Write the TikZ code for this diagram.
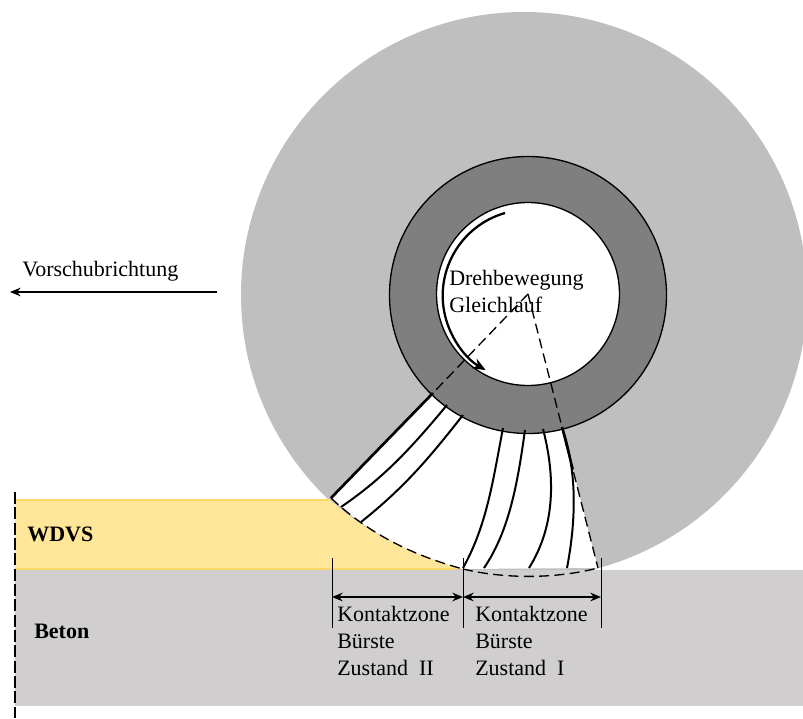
\documentclass[tikz,border=0pt]{standalone}
\usepackage{fontspec}
\setmainfont{Liberation Serif}
\usetikzlibrary{arrows.meta,calc}
\definecolor{wheel}{HTML}{BFBFBF}
\definecolor{ringc}{HTML}{7F7F7F}
\definecolor{wdvs}{HTML}{FFE699}
\definecolor{wdvsb}{HTML}{FFD966}
\definecolor{beton}{HTML}{D0CECE}
\tikzset{
  lbl/.style={anchor=base west,inner sep=0pt,font=\fontsize{16.5}{20}\selectfont},
  blbl/.style={lbl,font=\fontsize{16.5}{20}\selectfont\bfseries},
  fibre/.style={line width=1.5pt,black},
  thinl/.style={line width=0.5pt,black},
  dashl/.style={line width=1pt,black,dash pattern=on 7.5pt off 4pt},
  dimarrow/.style={line width=1pt,black,{Stealth[length=8pt,width=6.5pt]}-{Stealth[length=8pt,width=6.5pt]}},
}
\begin{document}
\begin{tikzpicture}[x=0.75pt,y=-0.75pt]
\useasboundingbox (0,0) rectangle (803,718);
\begin{scope}
\clip (0,0) rectangle (803,718);
\fill[wheel] (524,295) circle (283);
\end{scope}
\coordinate (C) at (528,294);
\coordinate (A) at (331,498);
\coordinate (M) at (463,569);
\coordinate (B) at (598,568);
\coordinate (AT) at (433,393);
\coordinate (BT) at (562,427);
% white brush sector
\fill[white] (A) -- (AT) -- (BT) -- (B) -- (M) .. controls (415,556) and (370,535) .. (A) -- cycle;
% WDVS layer
\fill[wdvs] (15,500) -- (330,500) .. controls (370,535) and (415,556) .. (M) -- (463,569) -- (15,569) -- cycle;
\draw[wdvsb,line width=0.8pt] (15,500) -- (330,500);
\draw[wdvsb,line width=0.8pt] (15,569) -- (455,569);
% concrete
\fill[beton] (15,569.5) rectangle (803,706);
% hub
\fill[ringc,draw=black,line width=1pt] (C) ++(0,1) circle (138.5);
\fill[white,draw=black,line width=1pt] (C) circle (91.5);
% brush fibres
\draw[line width=2pt] (AT) -- (A);
\draw[fibre] (447,405) .. controls (412,447) and (385,477) .. (341,507);
\draw[fibre] (463,415) .. controls (430,457) and (405,487) .. (361,522);
\draw[fibre] (503,428) .. controls (493,480) and (487,525) .. (463,568);
\draw[fibre] (525,430) .. controls (518,480) and (510,530) .. (484,568);
\draw[fibre] (543,429) .. controls (555,475) and (556,525) .. (529,568);
\draw[fibre] (562,427) .. controls (575,465) and (578,510) .. (567,568);
\draw[line width=1.8pt] (BT) -- ($(BT)!0.3!(B)$);
% contact curves and radii
\draw[dashl] (A) .. controls (370,535) and (415,556) .. (M);
\draw[dashl] (M) .. controls (505,579) and (555,579) .. (B);
\draw[dashl] (C) -- (AT);
\draw[dashl] (C) -- (B);
% rotation arrow
\coordinate (RS) at (505,213);
\draw[line width=1.7pt,-{Stealth[length=10pt,width=8pt]}] (RS) arc[start angle=254,end angle=120,radius=86];
% feed arrow
\coordinate (FA) at (217,292);
\coordinate (FB) at (10,292);
\draw[line width=1pt,-{Stealth[length=8pt,width=6.5pt]}] (FA) -- (FB);
% left dashed
\coordinate (D1) at (15,492);
\coordinate (D2) at (15,718);
\draw[line width=1.1pt,dash pattern=on 9pt off 2.5pt] (D1) -- (D2);
% dimension lines
\coordinate (T1) at (332,558); \coordinate (B1) at (332,628);
\coordinate (T2) at (463,558); \coordinate (B2) at (463,628);
\coordinate (T3) at (601,558); \coordinate (B3) at (601,628);
\draw[thinl] (T1) -- (B1);
\draw[thinl] (T2) -- (B2);
\draw[thinl] (T3) -- (B3);
\coordinate (P1) at (332,597); \coordinate (P2) at (463,597); \coordinate (P3) at (601,597);
\draw[dimarrow] (P1) -- (P2);
\draw[dimarrow] (P2) -- (P3);
% texts
\node[lbl] (t1) at (22,276) {Vorschubrichtung};
\node[lbl] (t2) at (449,285) {Drehbewegung};
\node[lbl] (t3) at (449,312) {Gleichlauf};
\node[blbl] (t4) at (27,541) {WDVS};
\node[blbl] (t5) at (34,638) {Beton};
\node[lbl] (t6) at (337,621) {Kontaktzone};
\node[lbl] (t7) at (337,648) {Bürste};
\node[lbl] (t8) at (337,675) {Zustand\ \ II};
\node[lbl] (t9) at (475,621) {Kontaktzone};
\node[lbl] (t10) at (475,648) {Bürste};
\node[lbl] (t11) at (475,675) {Zustand\ \ I};
\end{tikzpicture}
\end{document}
